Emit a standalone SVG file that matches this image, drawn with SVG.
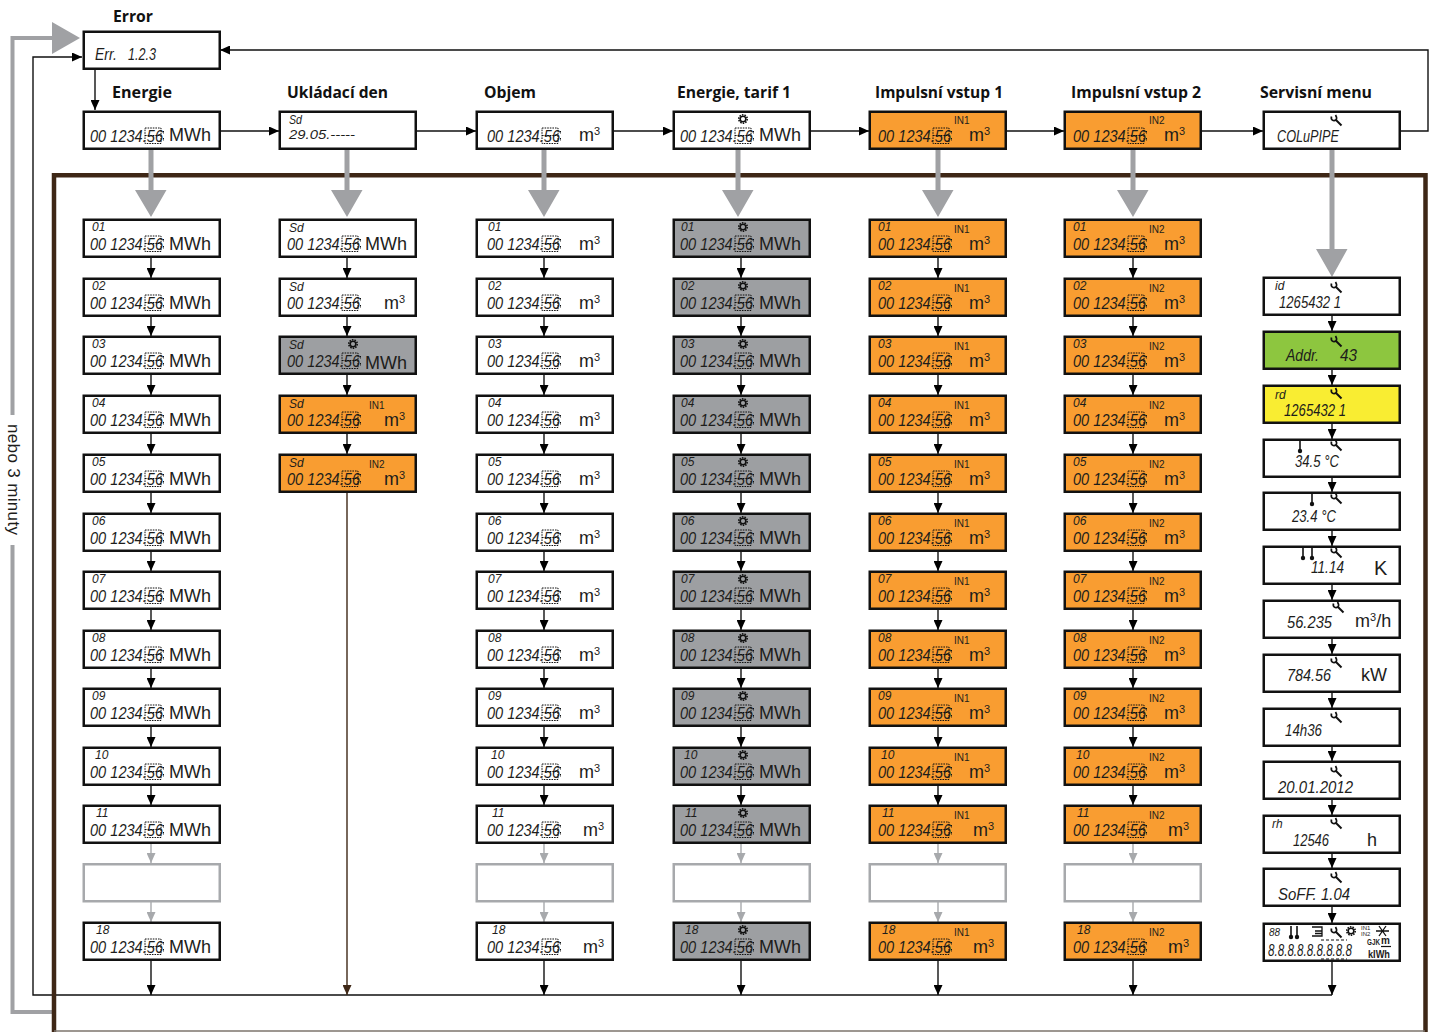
<svg xmlns="http://www.w3.org/2000/svg" width="1429" height="1032" viewBox="0 0 1429 1032">
<style>
text{font-family:"Liberation Sans",Arial,sans-serif;fill:#1d1d1b}
.t{font-family:"Open Sans","Noto Sans",sans-serif;font-weight:700;font-size:16px;fill:#111}
.l{font-style:italic;font-size:17px}
.s{font-style:italic;font-size:12px}
.u{font-size:18px}
.u tspan{font-size:11px}
.i{font-size:10px}
.b{x:.75px;y:.75px;width:136px;height:37px;stroke:#111;stroke-width:2.5px;fill:#fff}
.o{fill:#f99d31}.g{fill:#9d9fa2}.e{stroke:#a7a9ac;fill:#fff}.gr{fill:#8dc63f}.y{fill:#f9ed32}
.c path{fill:none;stroke:#111;stroke-width:1.4px;marker-end:url(#a)}
.c path.h{stroke:#a7a9ac;marker-end:url(#ah)}
.c path.n{stroke:#3e2716;marker-end:url(#an)}
.ic{fill:none;stroke:#111;stroke-width:1.700px}
</style>
<defs>
<marker id="a" markerUnits="userSpaceOnUse" viewBox="0 0 10 9" refX="10" refY="4.500" markerWidth="10" markerHeight="9" orient="auto"><path d="M0 0L10 4.500L0 9Z" fill="#000"/></marker>
<marker id="ah" markerUnits="userSpaceOnUse" viewBox="0 0 10 9" refX="10" refY="4.500" markerWidth="10" markerHeight="9" orient="auto"><path d="M0 0L10 4.500L0 9Z" fill="#a7a9ac"/></marker>
<marker id="an" markerUnits="userSpaceOnUse" viewBox="0 0 10 9" refX="10" refY="4.500" markerWidth="10" markerHeight="9" orient="auto"><path d="M0 0L10 4.500L0 9Z" fill="#3e2716"/></marker>
<g id="d" fill="none" stroke="#111" stroke-width="1" stroke-dasharray="1.600 1"><rect x="62" y="17" width="16" height="15.500"/><path d="M62 24.500H78M80.500 20V23M80.500 27V30"/></g>
<g id="gear" fill="none" stroke="#111"><circle r="2.800" stroke-width="1.500"/><circle r="4.200" stroke-width="1.600" stroke-dasharray="1.500 1.100"/></g>
<g id="w" class="ic"><path d="M-4.500 -3.500C-5.500 0 -2.500 1.500 0 0C1 -1.500 0.500 -3.500 -0.500 -5"/><path d="M-0.500 -0.500L5.500 5.500" stroke-width="2"/></g>
<g id="tm" stroke="#111" stroke-width="1.600" fill="#111"><path d="M0 0V10"/><circle cy="11" r="2.200" stroke="none"/></g>
</defs>
<rect width="1429" height="1032" fill="#fff"/>

<g id="connectors" class="c">
<path style="stroke:#a0a1a4;stroke-width:4;marker-end:none" d="M54 1012H12.500V38H54"/>
<path d="M1332 995H33V57H82"/>
<path d="M95 69V110"/>
<path d="M220 131H279"/><path d="M416 131H476"/><path d="M613 131H673"/><path d="M810 131H869"/><path d="M1006 131H1064"/><path d="M1201 131H1263"/>
<path d="M1400 131H1428V50H220"/>
<path d="M151 257V278"/><path d="M151 316V336"/><path d="M151 374V395"/><path d="M151 433V454"/><path d="M151 492V513"/><path d="M151 551V571"/><path d="M151 609V630"/><path d="M151 668V688"/><path d="M151 726V747"/><path d="M151 785V805"/><path class="h" d="M151 844V863"/><path class="h" d="M151 902V922"/><path d="M151 961V995"/>
<path d="M347 257V278"/><path d="M347 316V336"/><path d="M347 374V395"/><path d="M347 433V454"/><path class="n" d="M347 492V995"/>
<path d="M544 257V278"/><path d="M544 316V336"/><path d="M544 374V395"/><path d="M544 433V454"/><path d="M544 492V513"/><path d="M544 551V571"/><path d="M544 609V630"/><path d="M544 668V688"/><path d="M544 726V747"/><path d="M544 785V805"/><path class="h" d="M544 844V863"/><path class="h" d="M544 902V922"/><path d="M544 961V995"/>
<path d="M741 257V278"/><path d="M741 316V336"/><path d="M741 374V395"/><path d="M741 433V454"/><path d="M741 492V513"/><path d="M741 551V571"/><path d="M741 609V630"/><path d="M741 668V688"/><path d="M741 726V747"/><path d="M741 785V805"/><path class="h" d="M741 844V863"/><path class="h" d="M741 902V922"/><path d="M741 961V995"/>
<path d="M938 257V278"/><path d="M938 316V336"/><path d="M938 374V395"/><path d="M938 433V454"/><path d="M938 492V513"/><path d="M938 551V571"/><path d="M938 609V630"/><path d="M938 668V688"/><path d="M938 726V747"/><path d="M938 785V805"/><path class="h" d="M938 844V863"/><path class="h" d="M938 902V922"/><path d="M938 961V995"/>
<path d="M1133 257V278"/><path d="M1133 316V336"/><path d="M1133 374V395"/><path d="M1133 433V454"/><path d="M1133 492V513"/><path d="M1133 551V571"/><path d="M1133 609V630"/><path d="M1133 668V688"/><path d="M1133 726V747"/><path d="M1133 785V805"/><path class="h" d="M1133 844V863"/><path class="h" d="M1133 902V922"/><path d="M1133 961V995"/>
<path d="M1332 315V331"/><path d="M1332 369V385"/><path d="M1332 423V439"/><path d="M1332 477V492"/><path d="M1332 530V546"/><path d="M1332 584V600"/><path d="M1332 638V654"/><path d="M1332 692V708"/><path d="M1332 746V761"/><path d="M1332 799V815"/><path d="M1332 853V868"/><path d="M1332 906V923"/><path d="M1332 961V995"/>
<path id="frame" style="stroke:#3e2716;stroke-width:4.500;marker-end:none" d="M54 1032V175.250H1425.500V1032"/>
<path style="stroke:#7d746c;stroke-width:1.500;marker-end:none" d="M54 1031H1425"/>
</g>
<g id="heavy-arrows" fill="#a0a1a4">
<path d="M80 38L52 22V54Z"/>
<path d="M148.500 149h5v41h13L151 217L135 190h13.500Z"/>
<path d="M344.500 149h5v41h13L347 217L331 190h13.500Z"/>
<path d="M541.500 149h5v41h13L544 217L528 190h13.500Z"/>
<path d="M735.500 149h5v41h13L738 217L722 190h13.500Z"/>
<path d="M935.500 149h5v41h13L938 217L922 190h13.500Z"/>
<path d="M1130.500 149h5v41h13L1133 217L1117 190h13.500Z"/>
<path d="M1329.500 149h5v100h13L1332 277L1316 249h13.500Z"/>
</g>
<rect x="4" y="415" width="18" height="130" fill="#fff"/>
<text id="loop-label" transform="translate(7.500,424) rotate(90)" font-size="17" textLength="111">nebo 3 minuty</text>

<g id="headers">
<text class="t" x="113" y="22" textLength="40" lengthAdjust="spacingAndGlyphs">Error</text>
<text class="t" x="112" y="98" textLength="60" lengthAdjust="spacingAndGlyphs">Energie</text>
<text class="t" x="287" y="98" textLength="101" lengthAdjust="spacingAndGlyphs">Ukládací den</text>
<text class="t" x="484" y="98" textLength="52" lengthAdjust="spacingAndGlyphs">Objem</text>
<text class="t" x="677" y="98" textLength="114" lengthAdjust="spacingAndGlyphs">Energie, tarif 1</text>
<text class="t" x="875" y="98" textLength="128" lengthAdjust="spacingAndGlyphs">Impulsní vstup 1</text>
<text class="t" x="1071" y="98" textLength="130" lengthAdjust="spacingAndGlyphs">Impulsní vstup 2</text>
<text class="t" x="1260" y="98" textLength="112" lengthAdjust="spacingAndGlyphs">Servisní menu</text>
</g>

<g id="err" transform="translate(83,31)"><rect class="b"/><text class="l" x="12" y="29" textLength="22" lengthAdjust="spacingAndGlyphs">Err.</text><text class="l" x="45" y="29" textLength="28" lengthAdjust="spacingAndGlyphs">1.2.3</text></g>

<g id="top-e" transform="translate(83,111)"><rect class="b"/><text class="l" x="7" y="30.500" textLength="73" lengthAdjust="spacingAndGlyphs">00 1234.56</text><use href="#d"/><text class="u" x="86" y="30">MWh</text></g>
<g id="top-sd" transform="translate(279,111)"><rect class="b"/><text class="s" x="10" y="13" textLength="13" lengthAdjust="spacingAndGlyphs">Sd</text><text class="s" x="10" y="28" textLength="66" lengthAdjust="spacingAndGlyphs">29.05.-----</text></g>
<g id="top-v" transform="translate(476,111)"><rect class="b"/><text class="l" x="11" y="30.500" textLength="73" lengthAdjust="spacingAndGlyphs">00 1234.56</text><use href="#d" x="4"/><text class="u" x="103" y="30">m<tspan dy="-6">3</tspan></text></g>
<g id="top-t1" transform="translate(673,111)"><rect class="b"/><use href="#gear" x="70" y="8"/><text class="l" x="7" y="30.500" textLength="73" lengthAdjust="spacingAndGlyphs">00 1234.56</text><use href="#d"/><text class="u" x="86" y="30">MWh</text></g>
<g id="top-in1" transform="translate(869,111)"><rect class="b o"/><text class="i" x="85" y="13">IN1</text><text class="l" x="9" y="30.500" textLength="73" lengthAdjust="spacingAndGlyphs">00 1234.56</text><use href="#d" x="2"/><text class="u" x="100" y="30">m<tspan dy="-6">3</tspan></text></g>
<g id="top-in2" transform="translate(1064,111)"><rect class="b o"/><text class="i" x="85" y="13">IN2</text><text class="l" x="9" y="30.500" textLength="73" lengthAdjust="spacingAndGlyphs">00 1234.56</text><use href="#d" x="2"/><text class="u" x="100" y="30">m<tspan dy="-6">3</tspan></text></g>
<g id="top-s" transform="translate(1263,111)"><rect class="b"/><use href="#w" x="73" y="9"/><text class="l" x="14" y="31" textLength="62" lengthAdjust="spacingAndGlyphs">COLuPIPE</text></g>

<g id="col-energie">
<g id="e01" transform="translate(83,219)"><rect class="b"/><text class="s" x="9" y="12">01</text><text class="l" x="7" y="31" textLength="73" lengthAdjust="spacingAndGlyphs">00 1234.56</text><use href="#d"/><text class="u" x="86" y="30.500">MWh</text></g>
<g id="e02" transform="translate(83,278)"><rect class="b"/><text class="s" x="9" y="12">02</text><text class="l" x="7" y="31" textLength="73" lengthAdjust="spacingAndGlyphs">00 1234.56</text><use href="#d"/><text class="u" x="86" y="30.500">MWh</text></g>
<g id="e03" transform="translate(83,336)"><rect class="b"/><text class="s" x="9" y="12">03</text><text class="l" x="7" y="31" textLength="73" lengthAdjust="spacingAndGlyphs">00 1234.56</text><use href="#d"/><text class="u" x="86" y="30.500">MWh</text></g>
<g id="e04" transform="translate(83,395)"><rect class="b"/><text class="s" x="9" y="12">04</text><text class="l" x="7" y="31" textLength="73" lengthAdjust="spacingAndGlyphs">00 1234.56</text><use href="#d"/><text class="u" x="86" y="30.500">MWh</text></g>
<g id="e05" transform="translate(83,454)"><rect class="b"/><text class="s" x="9" y="12">05</text><text class="l" x="7" y="31" textLength="73" lengthAdjust="spacingAndGlyphs">00 1234.56</text><use href="#d"/><text class="u" x="86" y="30.500">MWh</text></g>
<g id="e06" transform="translate(83,513)"><rect class="b"/><text class="s" x="9" y="12">06</text><text class="l" x="7" y="31" textLength="73" lengthAdjust="spacingAndGlyphs">00 1234.56</text><use href="#d"/><text class="u" x="86" y="30.500">MWh</text></g>
<g id="e07" transform="translate(83,571)"><rect class="b"/><text class="s" x="9" y="12">07</text><text class="l" x="7" y="31" textLength="73" lengthAdjust="spacingAndGlyphs">00 1234.56</text><use href="#d"/><text class="u" x="86" y="30.500">MWh</text></g>
<g id="e08" transform="translate(83,630)"><rect class="b"/><text class="s" x="9" y="12">08</text><text class="l" x="7" y="31" textLength="73" lengthAdjust="spacingAndGlyphs">00 1234.56</text><use href="#d"/><text class="u" x="86" y="30.500">MWh</text></g>
<g id="e09" transform="translate(83,688)"><rect class="b"/><text class="s" x="9" y="12">09</text><text class="l" x="7" y="31" textLength="73" lengthAdjust="spacingAndGlyphs">00 1234.56</text><use href="#d"/><text class="u" x="86" y="30.500">MWh</text></g>
<g id="e10" transform="translate(83,747)"><rect class="b"/><text class="s" x="12" y="12">10</text><text class="l" x="7" y="31" textLength="73" lengthAdjust="spacingAndGlyphs">00 1234.56</text><use href="#d"/><text class="u" x="86" y="30.500">MWh</text></g>
<g id="e11" transform="translate(83,805)"><rect class="b"/><text class="s" x="13" y="12">11</text><text class="l" x="7" y="31" textLength="73" lengthAdjust="spacingAndGlyphs">00 1234.56</text><use href="#d"/><text class="u" x="86" y="30.500">MWh</text></g>
<rect id="e-empty" class="b e" transform="translate(83,863.500)"/>
<g id="e18" transform="translate(83,922)"><rect class="b"/><text class="s" x="13" y="12">18</text><text class="l" x="7" y="31" textLength="73" lengthAdjust="spacingAndGlyphs">00 1234.56</text><use href="#d"/><text class="u" x="86" y="30.500">MWh</text></g>
</g>

<g id="col-ukladaci">
<g id="u1" transform="translate(279,219)"><rect class="b"/><text class="s" x="10" y="13">Sd</text><text class="l" x="8" y="31" textLength="73" lengthAdjust="spacingAndGlyphs">00 1234.56</text><use href="#d" x="1"/><text class="u" x="86" y="31">MWh</text></g>
<g id="u2" transform="translate(279,278)"><rect class="b"/><text class="s" x="10" y="13">Sd</text><text class="l" x="8" y="31" textLength="73" lengthAdjust="spacingAndGlyphs">00 1234.56</text><use href="#d" x="1"/><text class="u" x="105" y="31">m<tspan dy="-6">3</tspan></text></g>
<g id="u3" transform="translate(279,336)"><rect class="b g"/><use href="#gear" x="74" y="8"/><text class="s" x="10" y="13">Sd</text><text class="l" x="8" y="31" textLength="73" lengthAdjust="spacingAndGlyphs">00 1234.56</text><use href="#d" x="1"/><text class="u" x="86" y="33">MWh</text></g>
<g id="u4" transform="translate(279,395)"><rect class="b o"/><text class="i" x="90" y="14">IN1</text><text class="s" x="10" y="13">Sd</text><text class="l" x="8" y="31" textLength="73" lengthAdjust="spacingAndGlyphs">00 1234.56</text><use href="#d" x="1"/><text class="u" x="105" y="31">m<tspan dy="-6">3</tspan></text></g>
<g id="u5" transform="translate(279,454)"><rect class="b o"/><text class="i" x="90" y="14">IN2</text><text class="s" x="10" y="13">Sd</text><text class="l" x="8" y="31" textLength="73" lengthAdjust="spacingAndGlyphs">00 1234.56</text><use href="#d" x="1"/><text class="u" x="105" y="31">m<tspan dy="-6">3</tspan></text></g>
</g>

<g id="col-objem">
<g id="v01" transform="translate(476,219)"><rect class="b"/><text class="s" x="12" y="12">01</text><text class="l" x="11" y="31" textLength="73" lengthAdjust="spacingAndGlyphs">00 1234.56</text><use href="#d" x="4"/><text class="u" x="103" y="31">m<tspan dy="-6">3</tspan></text></g>
<g id="v02" transform="translate(476,278)"><rect class="b"/><text class="s" x="12" y="12">02</text><text class="l" x="11" y="31" textLength="73" lengthAdjust="spacingAndGlyphs">00 1234.56</text><use href="#d" x="4"/><text class="u" x="103" y="31">m<tspan dy="-6">3</tspan></text></g>
<g id="v03" transform="translate(476,336)"><rect class="b"/><text class="s" x="12" y="12">03</text><text class="l" x="11" y="31" textLength="73" lengthAdjust="spacingAndGlyphs">00 1234.56</text><use href="#d" x="4"/><text class="u" x="103" y="31">m<tspan dy="-6">3</tspan></text></g>
<g id="v04" transform="translate(476,395)"><rect class="b"/><text class="s" x="12" y="12">04</text><text class="l" x="11" y="31" textLength="73" lengthAdjust="spacingAndGlyphs">00 1234.56</text><use href="#d" x="4"/><text class="u" x="103" y="31">m<tspan dy="-6">3</tspan></text></g>
<g id="v05" transform="translate(476,454)"><rect class="b"/><text class="s" x="12" y="12">05</text><text class="l" x="11" y="31" textLength="73" lengthAdjust="spacingAndGlyphs">00 1234.56</text><use href="#d" x="4"/><text class="u" x="103" y="31">m<tspan dy="-6">3</tspan></text></g>
<g id="v06" transform="translate(476,513)"><rect class="b"/><text class="s" x="12" y="12">06</text><text class="l" x="11" y="31" textLength="73" lengthAdjust="spacingAndGlyphs">00 1234.56</text><use href="#d" x="4"/><text class="u" x="103" y="31">m<tspan dy="-6">3</tspan></text></g>
<g id="v07" transform="translate(476,571)"><rect class="b"/><text class="s" x="12" y="12">07</text><text class="l" x="11" y="31" textLength="73" lengthAdjust="spacingAndGlyphs">00 1234.56</text><use href="#d" x="4"/><text class="u" x="103" y="31">m<tspan dy="-6">3</tspan></text></g>
<g id="v08" transform="translate(476,630)"><rect class="b"/><text class="s" x="12" y="12">08</text><text class="l" x="11" y="31" textLength="73" lengthAdjust="spacingAndGlyphs">00 1234.56</text><use href="#d" x="4"/><text class="u" x="103" y="31">m<tspan dy="-6">3</tspan></text></g>
<g id="v09" transform="translate(476,688)"><rect class="b"/><text class="s" x="12" y="12">09</text><text class="l" x="11" y="31" textLength="73" lengthAdjust="spacingAndGlyphs">00 1234.56</text><use href="#d" x="4"/><text class="u" x="103" y="31">m<tspan dy="-6">3</tspan></text></g>
<g id="v10" transform="translate(476,747)"><rect class="b"/><text class="s" x="15" y="12">10</text><text class="l" x="11" y="31" textLength="73" lengthAdjust="spacingAndGlyphs">00 1234.56</text><use href="#d" x="4"/><text class="u" x="103" y="31">m<tspan dy="-6">3</tspan></text></g>
<g id="v11" transform="translate(476,805)"><rect class="b"/><text class="s" x="16" y="12">11</text><text class="l" x="11" y="31" textLength="73" lengthAdjust="spacingAndGlyphs">00 1234.56</text><use href="#d" x="4"/><text class="u" x="107" y="31">m<tspan dy="-6">3</tspan></text></g>
<rect id="v-empty" class="b e" transform="translate(476,863.500)"/>
<g id="v18" transform="translate(476,922)"><rect class="b"/><text class="s" x="16" y="12">18</text><text class="l" x="11" y="31" textLength="73" lengthAdjust="spacingAndGlyphs">00 1234.56</text><use href="#d" x="4"/><text class="u" x="107" y="31">m<tspan dy="-6">3</tspan></text></g>
</g>

<g id="col-tarif">
<g id="t01" transform="translate(673,219)"><rect class="b g"/><use href="#gear" x="70" y="8"/><text class="s" x="8" y="12">01</text><text class="l" x="7" y="31" textLength="73" lengthAdjust="spacingAndGlyphs">00 1234.56</text><use href="#d"/><text class="u" x="86" y="30.500">MWh</text></g>
<g id="t02" transform="translate(673,278)"><rect class="b g"/><use href="#gear" x="70" y="8"/><text class="s" x="8" y="12">02</text><text class="l" x="7" y="31" textLength="73" lengthAdjust="spacingAndGlyphs">00 1234.56</text><use href="#d"/><text class="u" x="86" y="30.500">MWh</text></g>
<g id="t03" transform="translate(673,336)"><rect class="b g"/><use href="#gear" x="70" y="8"/><text class="s" x="8" y="12">03</text><text class="l" x="7" y="31" textLength="73" lengthAdjust="spacingAndGlyphs">00 1234.56</text><use href="#d"/><text class="u" x="86" y="30.500">MWh</text></g>
<g id="t04" transform="translate(673,395)"><rect class="b g"/><use href="#gear" x="70" y="8"/><text class="s" x="8" y="12">04</text><text class="l" x="7" y="31" textLength="73" lengthAdjust="spacingAndGlyphs">00 1234.56</text><use href="#d"/><text class="u" x="86" y="30.500">MWh</text></g>
<g id="t05" transform="translate(673,454)"><rect class="b g"/><use href="#gear" x="70" y="8"/><text class="s" x="8" y="12">05</text><text class="l" x="7" y="31" textLength="73" lengthAdjust="spacingAndGlyphs">00 1234.56</text><use href="#d"/><text class="u" x="86" y="30.500">MWh</text></g>
<g id="t06" transform="translate(673,513)"><rect class="b g"/><use href="#gear" x="70" y="8"/><text class="s" x="8" y="12">06</text><text class="l" x="7" y="31" textLength="73" lengthAdjust="spacingAndGlyphs">00 1234.56</text><use href="#d"/><text class="u" x="86" y="30.500">MWh</text></g>
<g id="t07" transform="translate(673,571)"><rect class="b g"/><use href="#gear" x="70" y="8"/><text class="s" x="8" y="12">07</text><text class="l" x="7" y="31" textLength="73" lengthAdjust="spacingAndGlyphs">00 1234.56</text><use href="#d"/><text class="u" x="86" y="30.500">MWh</text></g>
<g id="t08" transform="translate(673,630)"><rect class="b g"/><use href="#gear" x="70" y="8"/><text class="s" x="8" y="12">08</text><text class="l" x="7" y="31" textLength="73" lengthAdjust="spacingAndGlyphs">00 1234.56</text><use href="#d"/><text class="u" x="86" y="30.500">MWh</text></g>
<g id="t09" transform="translate(673,688)"><rect class="b g"/><use href="#gear" x="70" y="8"/><text class="s" x="8" y="12">09</text><text class="l" x="7" y="31" textLength="73" lengthAdjust="spacingAndGlyphs">00 1234.56</text><use href="#d"/><text class="u" x="86" y="30.500">MWh</text></g>
<g id="t10" transform="translate(673,747)"><rect class="b g"/><use href="#gear" x="70" y="8"/><text class="s" x="11" y="12">10</text><text class="l" x="7" y="31" textLength="73" lengthAdjust="spacingAndGlyphs">00 1234.56</text><use href="#d"/><text class="u" x="86" y="30.500">MWh</text></g>
<g id="t11" transform="translate(673,805)"><rect class="b g"/><use href="#gear" x="70" y="8"/><text class="s" x="12" y="12">11</text><text class="l" x="7" y="31" textLength="73" lengthAdjust="spacingAndGlyphs">00 1234.56</text><use href="#d"/><text class="u" x="86" y="30.500">MWh</text></g>
<rect id="t-empty" class="b e" transform="translate(673,863.500)"/>
<g id="t18" transform="translate(673,922)"><rect class="b g"/><use href="#gear" x="70" y="8"/><text class="s" x="12" y="12">18</text><text class="l" x="7" y="31" textLength="73" lengthAdjust="spacingAndGlyphs">00 1234.56</text><use href="#d"/><text class="u" x="86" y="30.500">MWh</text></g>
</g>

<g id="col-in1">
<g id="a01" transform="translate(869,219)"><rect class="b o"/><text class="i" x="85" y="14">IN1</text><text class="s" x="9" y="12">01</text><text class="l" x="9" y="31" textLength="73" lengthAdjust="spacingAndGlyphs">00 1234.56</text><use href="#d" x="2"/><text class="u" x="100" y="31">m<tspan dy="-6">3</tspan></text></g>
<g id="a02" transform="translate(869,278)"><rect class="b o"/><text class="i" x="85" y="14">IN1</text><text class="s" x="9" y="12">02</text><text class="l" x="9" y="31" textLength="73" lengthAdjust="spacingAndGlyphs">00 1234.56</text><use href="#d" x="2"/><text class="u" x="100" y="31">m<tspan dy="-6">3</tspan></text></g>
<g id="a03" transform="translate(869,336)"><rect class="b o"/><text class="i" x="85" y="14">IN1</text><text class="s" x="9" y="12">03</text><text class="l" x="9" y="31" textLength="73" lengthAdjust="spacingAndGlyphs">00 1234.56</text><use href="#d" x="2"/><text class="u" x="100" y="31">m<tspan dy="-6">3</tspan></text></g>
<g id="a04" transform="translate(869,395)"><rect class="b o"/><text class="i" x="85" y="14">IN1</text><text class="s" x="9" y="12">04</text><text class="l" x="9" y="31" textLength="73" lengthAdjust="spacingAndGlyphs">00 1234.56</text><use href="#d" x="2"/><text class="u" x="100" y="31">m<tspan dy="-6">3</tspan></text></g>
<g id="a05" transform="translate(869,454)"><rect class="b o"/><text class="i" x="85" y="14">IN1</text><text class="s" x="9" y="12">05</text><text class="l" x="9" y="31" textLength="73" lengthAdjust="spacingAndGlyphs">00 1234.56</text><use href="#d" x="2"/><text class="u" x="100" y="31">m<tspan dy="-6">3</tspan></text></g>
<g id="a06" transform="translate(869,513)"><rect class="b o"/><text class="i" x="85" y="14">IN1</text><text class="s" x="9" y="12">06</text><text class="l" x="9" y="31" textLength="73" lengthAdjust="spacingAndGlyphs">00 1234.56</text><use href="#d" x="2"/><text class="u" x="100" y="31">m<tspan dy="-6">3</tspan></text></g>
<g id="a07" transform="translate(869,571)"><rect class="b o"/><text class="i" x="85" y="14">IN1</text><text class="s" x="9" y="12">07</text><text class="l" x="9" y="31" textLength="73" lengthAdjust="spacingAndGlyphs">00 1234.56</text><use href="#d" x="2"/><text class="u" x="100" y="31">m<tspan dy="-6">3</tspan></text></g>
<g id="a08" transform="translate(869,630)"><rect class="b o"/><text class="i" x="85" y="14">IN1</text><text class="s" x="9" y="12">08</text><text class="l" x="9" y="31" textLength="73" lengthAdjust="spacingAndGlyphs">00 1234.56</text><use href="#d" x="2"/><text class="u" x="100" y="31">m<tspan dy="-6">3</tspan></text></g>
<g id="a09" transform="translate(869,688)"><rect class="b o"/><text class="i" x="85" y="14">IN1</text><text class="s" x="9" y="12">09</text><text class="l" x="9" y="31" textLength="73" lengthAdjust="spacingAndGlyphs">00 1234.56</text><use href="#d" x="2"/><text class="u" x="100" y="31">m<tspan dy="-6">3</tspan></text></g>
<g id="a10" transform="translate(869,747)"><rect class="b o"/><text class="i" x="85" y="14">IN1</text><text class="s" x="12" y="12">10</text><text class="l" x="9" y="31" textLength="73" lengthAdjust="spacingAndGlyphs">00 1234.56</text><use href="#d" x="2"/><text class="u" x="100" y="31">m<tspan dy="-6">3</tspan></text></g>
<g id="a11" transform="translate(869,805)"><rect class="b o"/><text class="i" x="85" y="14">IN1</text><text class="s" x="13" y="12">11</text><text class="l" x="9" y="31" textLength="73" lengthAdjust="spacingAndGlyphs">00 1234.56</text><use href="#d" x="2"/><text class="u" x="104" y="31">m<tspan dy="-6">3</tspan></text></g>
<rect id="a-empty" class="b e" transform="translate(869,863.500)"/>
<g id="a18" transform="translate(869,922)"><rect class="b o"/><text class="i" x="85" y="14">IN1</text><text class="s" x="13" y="12">18</text><text class="l" x="9" y="31" textLength="73" lengthAdjust="spacingAndGlyphs">00 1234.56</text><use href="#d" x="2"/><text class="u" x="104" y="31">m<tspan dy="-6">3</tspan></text></g>
</g>

<g id="col-in2">
<g id="b01" transform="translate(1064,219)"><rect class="b o"/><text class="i" x="85" y="14">IN2</text><text class="s" x="9" y="12">01</text><text class="l" x="9" y="31" textLength="73" lengthAdjust="spacingAndGlyphs">00 1234.56</text><use href="#d" x="2"/><text class="u" x="100" y="31">m<tspan dy="-6">3</tspan></text></g>
<g id="b02" transform="translate(1064,278)"><rect class="b o"/><text class="i" x="85" y="14">IN2</text><text class="s" x="9" y="12">02</text><text class="l" x="9" y="31" textLength="73" lengthAdjust="spacingAndGlyphs">00 1234.56</text><use href="#d" x="2"/><text class="u" x="100" y="31">m<tspan dy="-6">3</tspan></text></g>
<g id="b03" transform="translate(1064,336)"><rect class="b o"/><text class="i" x="85" y="14">IN2</text><text class="s" x="9" y="12">03</text><text class="l" x="9" y="31" textLength="73" lengthAdjust="spacingAndGlyphs">00 1234.56</text><use href="#d" x="2"/><text class="u" x="100" y="31">m<tspan dy="-6">3</tspan></text></g>
<g id="b04" transform="translate(1064,395)"><rect class="b o"/><text class="i" x="85" y="14">IN2</text><text class="s" x="9" y="12">04</text><text class="l" x="9" y="31" textLength="73" lengthAdjust="spacingAndGlyphs">00 1234.56</text><use href="#d" x="2"/><text class="u" x="100" y="31">m<tspan dy="-6">3</tspan></text></g>
<g id="b05" transform="translate(1064,454)"><rect class="b o"/><text class="i" x="85" y="14">IN2</text><text class="s" x="9" y="12">05</text><text class="l" x="9" y="31" textLength="73" lengthAdjust="spacingAndGlyphs">00 1234.56</text><use href="#d" x="2"/><text class="u" x="100" y="31">m<tspan dy="-6">3</tspan></text></g>
<g id="b06" transform="translate(1064,513)"><rect class="b o"/><text class="i" x="85" y="14">IN2</text><text class="s" x="9" y="12">06</text><text class="l" x="9" y="31" textLength="73" lengthAdjust="spacingAndGlyphs">00 1234.56</text><use href="#d" x="2"/><text class="u" x="100" y="31">m<tspan dy="-6">3</tspan></text></g>
<g id="b07" transform="translate(1064,571)"><rect class="b o"/><text class="i" x="85" y="14">IN2</text><text class="s" x="9" y="12">07</text><text class="l" x="9" y="31" textLength="73" lengthAdjust="spacingAndGlyphs">00 1234.56</text><use href="#d" x="2"/><text class="u" x="100" y="31">m<tspan dy="-6">3</tspan></text></g>
<g id="b08" transform="translate(1064,630)"><rect class="b o"/><text class="i" x="85" y="14">IN2</text><text class="s" x="9" y="12">08</text><text class="l" x="9" y="31" textLength="73" lengthAdjust="spacingAndGlyphs">00 1234.56</text><use href="#d" x="2"/><text class="u" x="100" y="31">m<tspan dy="-6">3</tspan></text></g>
<g id="b09" transform="translate(1064,688)"><rect class="b o"/><text class="i" x="85" y="14">IN2</text><text class="s" x="9" y="12">09</text><text class="l" x="9" y="31" textLength="73" lengthAdjust="spacingAndGlyphs">00 1234.56</text><use href="#d" x="2"/><text class="u" x="100" y="31">m<tspan dy="-6">3</tspan></text></g>
<g id="b10" transform="translate(1064,747)"><rect class="b o"/><text class="i" x="85" y="14">IN2</text><text class="s" x="12" y="12">10</text><text class="l" x="9" y="31" textLength="73" lengthAdjust="spacingAndGlyphs">00 1234.56</text><use href="#d" x="2"/><text class="u" x="100" y="31">m<tspan dy="-6">3</tspan></text></g>
<g id="b11" transform="translate(1064,805)"><rect class="b o"/><text class="i" x="85" y="14">IN2</text><text class="s" x="13" y="12">11</text><text class="l" x="9" y="31" textLength="73" lengthAdjust="spacingAndGlyphs">00 1234.56</text><use href="#d" x="2"/><text class="u" x="104" y="31">m<tspan dy="-6">3</tspan></text></g>
<rect id="b-empty" class="b e" transform="translate(1064,863.500)"/>
<g id="b18" transform="translate(1064,922)"><rect class="b o"/><text class="i" x="85" y="14">IN2</text><text class="s" x="13" y="12">18</text><text class="l" x="9" y="31" textLength="73" lengthAdjust="spacingAndGlyphs">00 1234.56</text><use href="#d" x="2"/><text class="u" x="104" y="31">m<tspan dy="-6">3</tspan></text></g>
</g>

<g id="col-servis">
<g id="s-id" transform="translate(1263,277)"><rect class="b"/><use href="#w" x="73" y="10"/><text class="s" x="12" y="13">id</text><text class="l" x="16" y="31" textLength="62" lengthAdjust="spacingAndGlyphs">1265432 1</text></g>
<g id="s-addr" transform="translate(1263,331)"><rect class="b gr"/><use href="#w" x="73" y="10"/><text class="l" x="23" y="30" textLength="33" lengthAdjust="spacingAndGlyphs">Addr.</text><text class="l" x="77" y="30" textLength="17" lengthAdjust="spacingAndGlyphs">43</text></g>
<g id="s-rd" transform="translate(1263,385)"><rect class="b y"/><use href="#w" x="73" y="8"/><text class="s" x="12" y="14">rd</text><text class="l" x="21" y="31" textLength="62" lengthAdjust="spacingAndGlyphs">1265432 1</text></g>
<g id="s-t1" transform="translate(1263,439)"><rect class="b"/><use href="#w" x="73" y="6"/><use href="#tm" x="37" y="1"/><text class="l" x="32" y="28" textLength="44" lengthAdjust="spacingAndGlyphs">34.5 °C</text></g>
<g id="s-t2" transform="translate(1263,492)"><rect class="b"/><use href="#w" x="73" y="6"/><use href="#tm" x="49" y="1"/><text class="l" x="29" y="30" textLength="44" lengthAdjust="spacingAndGlyphs">23.4 °C</text></g>
<g id="s-dt" transform="translate(1263,546)"><rect class="b"/><use href="#w" x="73" y="6"/><use href="#tm" x="40" y="1"/><use href="#tm" x="49" y="1"/><text class="l" x="48" y="27" textLength="33" lengthAdjust="spacingAndGlyphs">11.14</text><text class="u" x="111" y="29" style="font-size:20px">K</text></g>
<g id="s-fl" transform="translate(1263,600)"><rect class="b"/><use href="#w" x="75" y="7"/><text class="l" x="24" y="28" textLength="45" lengthAdjust="spacingAndGlyphs">56.235</text><text class="u" x="92" y="27">m<tspan dy="-6">3</tspan><tspan dy="6" style="font-size:18px">/h</tspan></text></g>
<g id="s-kw" transform="translate(1263,654)"><rect class="b"/><use href="#w" x="73" y="8"/><text class="l" x="24" y="27" textLength="44" lengthAdjust="spacingAndGlyphs">784.56</text><text class="u" x="98" y="27">kW</text></g>
<g id="s-tm" transform="translate(1263,708)"><rect class="b"/><use href="#w" x="73" y="9"/><text class="l" x="22" y="28" textLength="37" lengthAdjust="spacingAndGlyphs">14h36</text></g>
<g id="s-dat" transform="translate(1263,761)"><rect class="b"/><use href="#w" x="73" y="10"/><text class="l" x="15" y="32" textLength="75" lengthAdjust="spacingAndGlyphs">20.01.2012</text></g>
<g id="s-rh" transform="translate(1263,815)"><rect class="b"/><use href="#w" x="73" y="8"/><text class="s" x="9" y="13">rh</text><text class="l" x="30" y="31" textLength="36" lengthAdjust="spacingAndGlyphs">12546</text><text class="u" x="104" y="31">h</text></g>
<g id="s-off" transform="translate(1263,868)"><rect class="b"/><use href="#w" x="73" y="9"/><text class="l" x="15" y="32" textLength="72" lengthAdjust="spacingAndGlyphs">SoFF. 1.04</text></g>
<g id="s-all" transform="translate(1263,923)"><rect class="b"/><text class="s" x="6" y="13" style="font-size:10px">88</text><use href="#tm" x="28" y="3"/><use href="#tm" x="34" y="3"/><path d="M49 4H59V13H49M52 8H59M52 10.500H59" fill="none" stroke="#111" stroke-width="1.300"/><use href="#w" x="73" y="9"/><use href="#gear" x="88" y="8"/><text x="98" y="7" style="font-size:6px">IN1</text><text x="98" y="13" style="font-size:6px">IN2</text><path d="M113 8H126M116 3L123 13M123 3L116 13" fill="none" stroke="#111" stroke-width="1.300"/><text class="l" x="5" y="33" textLength="84" lengthAdjust="spacingAndGlyphs">8.8.8.8.8.8.8.8.8</text><path d="M58 17H84M58 36H84" fill="none" stroke="#111" stroke-width="1.200" stroke-dasharray="3 2"/><text x="104" y="22" font-weight="700" style="font-size:9px" textLength="13" lengthAdjust="spacingAndGlyphs">GJK</text><text x="118" y="21" font-weight="700" style="font-size:10px">m</text><path d="M118 23.500H128" stroke="#111" stroke-width="1.200"/><text x="105" y="35" font-weight="700" style="font-size:10px" textLength="22" lengthAdjust="spacingAndGlyphs">kIWh</text></g>
</g>
</svg>
